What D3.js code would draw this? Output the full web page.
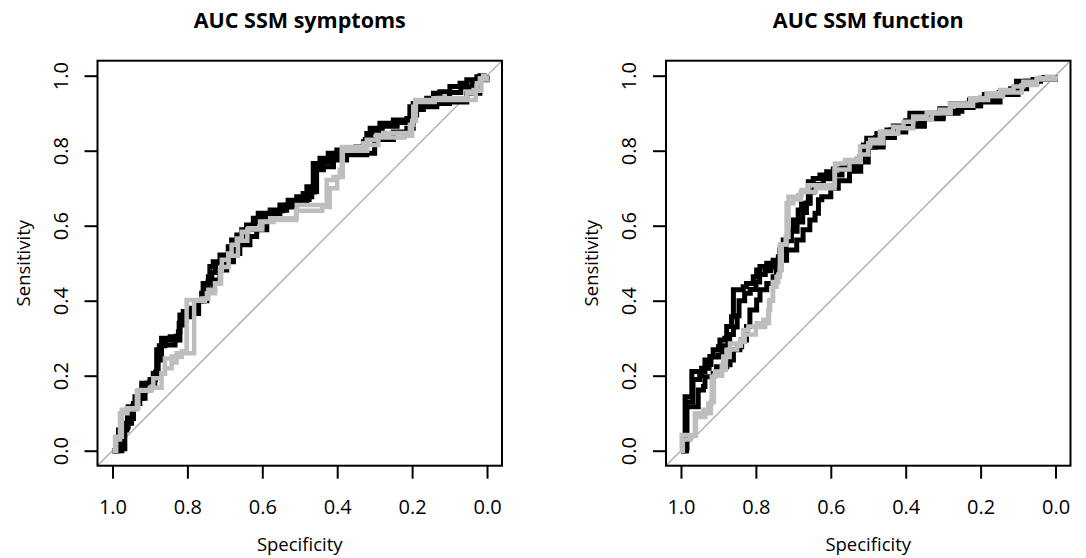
<!DOCTYPE html>
<html>
<head>
<meta charset="utf-8">
<script src="https://cdn.jsdelivr.net/npm/d3@7"></script>
<style>
  body { margin: 0; background: #fff; }
  text { font-family: "Open Sans", sans-serif; fill: #000; }
</style>
</head>
<body>
<script>
// ROC points: [specificity, sensitivity]
var symBlackA = [[1,0],[0.989,0.002],[0.984,0.055],[0.962,0.064],[0.958,0.117],[0.940,0.126],[0.940,0.144],[0.922,0.153],[0.922,0.180],[0.900,0.189],[0.891,0.206],[0.882,0.211],[0.882,0.269],[0.873,0.277],[0.869,0.300],[0.846,0.304],[0.824,0.317],[0.820,0.362],[0.811,0.371],[0.789,0.380],[0.780,0.400],[0.762,0.420],[0.758,0.446],[0.744,0.464],[0.740,0.491],[0.731,0.504],[0.713,0.522],[0.691,0.544],[0.682,0.562],[0.668,0.575],[0.655,0.589],[0.642,0.602],[0.624,0.620],[0.611,0.633],[0.579,0.642],[0.553,0.655],[0.531,0.668],[0.508,0.677],[0.491,0.686],[0.481,0.704],[0.464,0.722],[0.464,0.766],[0.446,0.780],[0.424,0.793],[0.401,0.802],[0.384,0.806],[0.330,0.824],[0.321,0.846],[0.312,0.860],[0.286,0.873],[0.250,0.882],[0.214,0.886],[0.206,0.917],[0.197,0.926],[0.161,0.940],[0.143,0.953],[0.126,0.957],[0.099,0.971],[0.072,0.980],[0.054,0.989],[0.027,0.997],[0.019,1],[0,1]];
var symBlackB = [[1,0],[0.975,0.005],[0.967,0.019],[0.967,0.073],[0.949,0.086],[0.944,0.126],[0.927,0.140],[0.913,0.162],[0.900,0.175],[0.887,0.197],[0.878,0.242],[0.869,0.282],[0.833,0.295],[0.820,0.335],[0.811,0.357],[0.793,0.366],[0.770,0.400],[0.748,0.429],[0.731,0.455],[0.713,0.482],[0.695,0.504],[0.677,0.526],[0.660,0.549],[0.633,0.571],[0.615,0.589],[0.588,0.628],[0.553,0.641],[0.535,0.655],[0.508,0.664],[0.481,0.677],[0.468,0.691],[0.455,0.749],[0.437,0.757],[0.410,0.775],[0.375,0.789],[0.321,0.793],[0.300,0.830],[0.250,0.850],[0.214,0.860],[0.197,0.895],[0.188,0.917],[0.134,0.926],[0.100,0.930],[0.054,0.953],[0.019,0.989],[0,1]];
var symBlackC = [[1,0],[0.985,0.010],[0.978,0.040],[0.970,0.060],[0.960,0.100],[0.945,0.120],[0.935,0.140],[0.920,0.160],[0.910,0.180],[0.895,0.190],[0.885,0.210],[0.880,0.250],[0.875,0.280],[0.860,0.295],[0.830,0.305],[0.822,0.340],[0.815,0.360],[0.790,0.375],[0.775,0.400],[0.755,0.425],[0.745,0.450],[0.735,0.475],[0.725,0.500],[0.705,0.515],[0.690,0.535],[0.675,0.555],[0.660,0.570],[0.640,0.590],[0.620,0.610],[0.600,0.625],[0.570,0.640],[0.545,0.650],[0.520,0.665],[0.500,0.670],[0.475,0.690],[0.460,0.700],[0.458,0.760],[0.440,0.770],[0.420,0.785],[0.390,0.795],[0.350,0.810],[0.325,0.830],[0.310,0.850],[0.280,0.865],[0.240,0.875],[0.210,0.880],[0.200,0.910],[0.170,0.925],[0.140,0.940],[0.100,0.955],[0.070,0.970],[0.040,0.985],[0.020,0.995],[0,1]];
var symGrayA = [[1,0],[0.993,0.011],[0.993,0.037],[0.975,0.109],[0.962,0.113],[0.931,0.162],[0.895,0.171],[0.891,0.193],[0.869,0.206],[0.860,0.246],[0.842,0.251],[0.829,0.260],[0.815,0.265],[0.802,0.270],[0.802,0.402],[0.762,0.406],[0.748,0.420],[0.726,0.446],[0.713,0.482],[0.708,0.509],[0.691,0.526],[0.682,0.549],[0.668,0.566],[0.655,0.584],[0.637,0.593],[0.606,0.611],[0.579,0.620],[0.513,0.620],[0.508,0.655],[0.428,0.659],[0.428,0.722],[0.410,0.730],[0.393,0.749],[0.388,0.810],[0.330,0.820],[0.321,0.829],[0.295,0.842],[0.277,0.847],[0.214,0.847],[0.206,0.869],[0.197,0.917],[0.192,0.935],[0.143,0.940],[0.063,0.940],[0.054,0.953],[0.036,0.962],[0.027,0.980],[0.019,0.993],[0.010,1],[0,1]];
var symGrayB = [[1,0],[0.990,0.030],[0.980,0.100],[0.960,0.110],[0.935,0.160],[0.900,0.168],[0.869,0.206],[0.860,0.220],[0.842,0.235],[0.829,0.250],[0.815,0.260],[0.782,0.265],[0.782,0.400],[0.753,0.406],[0.744,0.429],[0.726,0.446],[0.710,0.490],[0.690,0.520],[0.665,0.560],[0.640,0.590],[0.600,0.610],[0.570,0.615],[0.510,0.640],[0.440,0.650],[0.420,0.700],[0.400,0.730],[0.385,0.800],[0.320,0.815],[0.290,0.835],[0.220,0.840],[0.200,0.880],[0.190,0.930],[0.140,0.935],[0.060,0.935],[0.030,0.960],[0.015,0.990],[0,1]];

var funBlackA = [[1,0],[0.989,0.006],[0.989,0.144],[0.971,0.144],[0.971,0.211],[0.936,0.229],[0.936,0.242],[0.923,0.251],[0.914,0.269],[0.900,0.277],[0.896,0.295],[0.883,0.300],[0.878,0.331],[0.865,0.357],[0.860,0.429],[0.834,0.437],[0.825,0.446],[0.807,0.464],[0.798,0.482],[0.789,0.491],[0.771,0.500],[0.754,0.508],[0.740,0.517],[0.736,0.535],[0.727,0.562],[0.713,0.589],[0.700,0.615],[0.687,0.642],[0.678,0.660],[0.660,0.717],[0.647,0.726],[0.629,0.735],[0.611,0.744],[0.593,0.751],[0.560,0.760],[0.522,0.784],[0.513,0.815],[0.504,0.833],[0.477,0.846],[0.450,0.855],[0.433,0.866],[0.400,0.880],[0.389,0.900],[0.344,0.900],[0.309,0.912],[0.280,0.925],[0.230,0.935],[0.190,0.950],[0.150,0.955],[0.120,0.965],[0.104,0.985],[0.060,0.990],[0.030,0.995],[0,1]];
var funBlackB = [[1,0],[0.985,0.006],[0.984,0.117],[0.963,0.117],[0.954,0.162],[0.940,0.171],[0.936,0.197],[0.914,0.206],[0.905,0.224],[0.878,0.229],[0.869,0.242],[0.860,0.269],[0.843,0.277],[0.838,0.295],[0.825,0.331],[0.816,0.375],[0.798,0.402],[0.789,0.429],[0.771,0.446],[0.754,0.464],[0.745,0.482],[0.736,0.508],[0.718,0.535],[0.691,0.562],[0.674,0.589],[0.656,0.615],[0.642,0.633],[0.633,0.669],[0.624,0.677],[0.600,0.700],[0.580,0.720],[0.550,0.745],[0.520,0.770],[0.500,0.810],[0.460,0.835],[0.430,0.850],[0.400,0.865],[0.350,0.885],[0.300,0.900],[0.260,0.915],[0.220,0.920],[0.200,0.930],[0.148,0.950],[0.100,0.965],[0.077,0.980],[0.050,0.990],[0,1]];
var funBlackC = [[1,0],[0.987,0.010],[0.987,0.130],[0.975,0.130],[0.968,0.190],[0.950,0.200],[0.945,0.220],[0.925,0.230],[0.920,0.250],[0.900,0.255],[0.890,0.280],[0.875,0.290],[0.870,0.310],[0.860,0.330],[0.850,0.360],[0.845,0.400],[0.830,0.420],[0.815,0.430],[0.800,0.450],[0.790,0.470],[0.775,0.480],[0.760,0.490],[0.750,0.500],[0.740,0.510],[0.730,0.540],[0.720,0.560],[0.705,0.585],[0.690,0.610],[0.675,0.635],[0.665,0.660],[0.655,0.690],[0.645,0.710],[0.620,0.725],[0.600,0.735],[0.570,0.755],[0.530,0.775],[0.515,0.810],[0.480,0.835],[0.440,0.855],[0.400,0.872],[0.360,0.890],[0.300,0.905],[0.250,0.920],[0.200,0.940],[0.150,0.955],[0.110,0.970],[0.080,0.985],[0.040,0.993],[0,1]];
var funGrayA = [[1,0],[0.998,0.006],[0.998,0.042],[0.967,0.042],[0.963,0.100],[0.940,0.109],[0.927,0.126],[0.918,0.197],[0.909,0.211],[0.891,0.229],[0.887,0.251],[0.878,0.269],[0.869,0.286],[0.842,0.295],[0.834,0.322],[0.820,0.331],[0.798,0.340],[0.780,0.349],[0.767,0.375],[0.762,0.402],[0.754,0.437],[0.745,0.464],[0.736,0.482],[0.731,0.550],[0.720,0.570],[0.713,0.677],[0.687,0.682],[0.678,0.695],[0.660,0.708],[0.593,0.708],[0.589,0.766],[0.562,0.775],[0.531,0.780],[0.522,0.811],[0.495,0.829],[0.469,0.851],[0.433,0.864],[0.406,0.877],[0.380,0.891],[0.344,0.900],[0.309,0.909],[0.282,0.926],[0.228,0.940],[0.184,0.953],[0.148,0.962],[0.112,0.971],[0.086,0.984],[0.050,0.993],[0.023,0.997],[0,1]];
var funGrayB = [[1,0],[0.995,0.030],[0.975,0.040],[0.960,0.090],[0.935,0.100],[0.920,0.130],[0.912,0.200],[0.890,0.215],[0.880,0.250],[0.870,0.270],[0.850,0.280],[0.840,0.290],[0.830,0.310],[0.800,0.330],[0.775,0.340],[0.765,0.400],[0.755,0.450],[0.740,0.470],[0.736,0.550],[0.720,0.560],[0.718,0.660],[0.700,0.670],[0.680,0.690],[0.640,0.700],[0.600,0.700],[0.590,0.750],[0.550,0.770],[0.520,0.790],[0.500,0.820],[0.460,0.845],[0.420,0.860],[0.380,0.885],[0.330,0.900],[0.280,0.920],[0.220,0.935],[0.180,0.945],[0.140,0.955],[0.090,0.975],[0.050,0.990],[0,1]];

var tickVals = [1.0, 0.8, 0.6, 0.4, 0.2, 0.0];
var titles = ["AUC SSM symptoms", "AUC SSM function"];

var W = 1086, H = 558;
var svg = d3.select("body").append("svg")
  .attr("width", W)
  .attr("height", H);

var panels = [
  { title: titles[0], left: 97.5, right: 502, black: [symBlackB, symBlackC, symBlackA], gray: [symGrayB, symGrayA] },
  { title: titles[1], left: 666, right: 1070.5, black: [funBlackB, funBlackC, funBlackA], gray: [funGrayB, funGrayA] }
];
var plotTop = 60.7, plotBottom = 465.7;

panels.forEach(function (p, i) {
  // R extends the range 4% each side
  var x = d3.scaleLinear().domain([1.04, -0.04]).range([p.left, p.right]);
  var y = d3.scaleLinear().domain([-0.04, 1.04]).range([plotBottom, plotTop]);
  var g = svg.append("g");

  g.append("clipPath").attr("id", "clip" + i)
    .append("rect")
    .attr("x", p.left).attr("y", plotTop)
    .attr("width", p.right - p.left).attr("height", plotBottom - plotTop);

  var plot = g.append("g").attr("clip-path", "url(#clip" + i + ")");

  // chance line
  plot.append("line")
    .attr("x1", x(1.04)).attr("y1", y(-0.04))
    .attr("x2", x(-0.04)).attr("y2", y(1.04))
    .attr("stroke", "#a9a9a9")
    .attr("stroke-width", 1.3);

  var line = d3.line()
    .x(function (d) { return x(d[0]); })
    .y(function (d) { return y(d[1]); })
    .curve(d3.curveStepAfter);

  p.black.forEach(function (s) {
    plot.append("path").datum(s)
      .attr("d", line)
      .attr("fill", "none")
      .attr("stroke", "#000")
      .attr("stroke-width", 5);
  });
  p.gray.forEach(function (s) {
    plot.append("path").datum(s)
      .attr("d", line)
      .attr("fill", "none")
      .attr("stroke", "#bebebe")
      .attr("stroke-width", 4.5);
  });

  // box
  g.append("rect")
    .attr("x", p.left).attr("y", plotTop)
    .attr("width", p.right - p.left).attr("height", plotBottom - plotTop)
    .attr("fill", "none")
    .attr("stroke", "#000")
    .attr("stroke-width", 2);

  var xAxis = g.append("g")
    .attr("transform", "translate(0," + plotBottom + ")")
    .call(d3.axisBottom(x).tickValues(tickVals).tickSize(13).tickFormat(d3.format(".1f")));
  xAxis.select(".domain").remove();
  xAxis.selectAll("line").attr("stroke", "#000").attr("stroke-width", 2);
  xAxis.selectAll("text")
    .attr("y", 48).attr("dy", null)
    .style("font-size", "20px")
    .style("font-family", "'Open Sans', sans-serif");

  var yAxis = g.append("g")
    .attr("transform", "translate(" + p.left + ",0)")
    .call(d3.axisLeft(y).tickValues(tickVals).tickSize(13).tickFormat(d3.format(".1f")));
  yAxis.select(".domain").remove();
  yAxis.selectAll("line").attr("stroke", "#000").attr("stroke-width", 2);
  yAxis.selectAll("text")
    .attr("x", null).attr("dy", null)
    .attr("transform", "translate(-30,0) rotate(-90)")
    .attr("text-anchor", "middle")
    .style("font-size", "20px")
    .style("font-family", "'Open Sans', sans-serif");

  var cx = (p.left + p.right) / 2;
  g.append("text")
    .attr("x", cx).attr("y", 28)
    .attr("text-anchor", "middle")
    .style("font-size", "21.5px")
    .style("font-weight", "bold")
    .text(p.title);

  g.append("text")
    .attr("x", cx).attr("y", 551)
    .attr("text-anchor", "middle")
    .style("font-size", "18.5px")
    .text("Specificity");

  g.append("text")
    .attr("transform", "translate(" + (p.left - 68) + "," + ((plotTop + plotBottom) / 2) + ") rotate(-90)")
    .attr("text-anchor", "middle")
    .style("font-size", "18.5px")
    .text("Sensitivity");
});
</script>
</body>
</html>
